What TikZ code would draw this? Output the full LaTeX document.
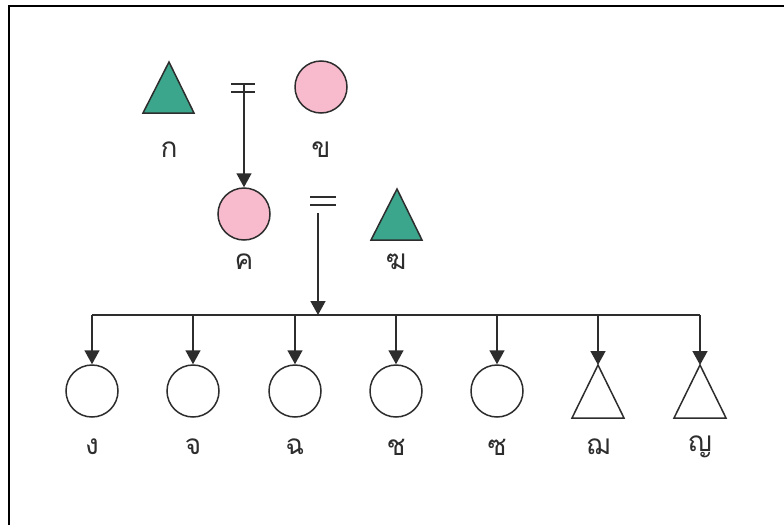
\documentclass[tikz,border=0pt]{standalone}
\usepackage{fontspec}
\newfontfamily\thaifont[Script=Thai]{Loma}
\usetikzlibrary{arrows.meta}
\definecolor{teal1}{RGB}{60,166,140}
\definecolor{pink1}{RGB}{248,186,205}
\definecolor{ink}{RGB}{45,45,45}
\begin{document}
\begin{tikzpicture}[x=1pt,y=-1pt,
  ln/.style={draw=ink, line width=1.5pt},
  arr/.style={ln, -{Triangle[width=15pt,length=14pt]}},
  circ/.style={circle, draw=ink, line width=1.5pt, minimum size=52pt, inner sep=0pt},
  tri/.style={draw=ink, line width=1.5pt, line join=miter},
  lbl/.style={font=\thaifont\fontsize{28}{28}\selectfont, text=ink, inner sep=0pt}]
\useasboundingbox (0,0) rectangle (784,525);
\fill[white] (0,0) rectangle (784,525);
% frame (top and left edges)
\draw[line width=2.2pt, black] (9,525) -- (9,6) -- (784,6);

% generation 1
\draw[tri, fill=teal1] (169,62) -- (194,113) -- (143,113) -- cycle;
\coordinate (ka) at (169,62);
\node[lbl] (lka) at (169,150) {ก};
\node[circ, fill=pink1] (kh) at (321,87) {};
\node[lbl] (lkh) at (321,150) {ข};
\coordinate (m1a) at (231,84); \coordinate (m1b) at (255,84);
\coordinate (m1c) at (231,92); \coordinate (m1d) at (255,92);
\draw[ln] (m1a) -- (m1b);
\draw[ln] (m1c) -- (m1d);
\coordinate (m1) at (244,84);

% generation 2
\node[circ, fill=pink1] (kho) at (244,214) {};
\node[lbl] (lkho) at (244,262) {ค};
\draw[tri, fill=teal1] (397,189) -- (422,240) -- (371,240) -- cycle;
\node[lbl] (lkhg) at (396,262) {ฆ};
\coordinate (m2a) at (310,197); \coordinate (m2b) at (336,197);
\coordinate (m2c) at (310,205); \coordinate (m2d) at (336,205);
\draw[ln] (m2a) -- (m2b);
\draw[ln] (m2c) -- (m2d);
\coordinate (m2) at (318,213);

\draw[arr] (m1) -- (kho.north);

% sibling bus
\coordinate (b1) at (92,315);
\coordinate (b2) at (193,315);
\coordinate (b3) at (295,315);
\coordinate (b4) at (396,315);
\coordinate (b5) at (497,315);
\coordinate (b6) at (598,315);
\coordinate (b7) at (700,315);
\coordinate (bm) at (318,315);
\draw[ln] (b1) -- (b7);
\draw[arr] (m2) -- (bm);

% children
\node[circ] (c1) at (92,391) {};
\node[circ] (c2) at (193,391) {};
\node[circ] (c3) at (295,391) {};
\node[circ] (c4) at (396,391) {};
\node[circ] (c5) at (497,391) {};
\draw[tri] (598,365) -- (624,418) -- (572,418) -- cycle;
\coordinate (c6) at (598,365);
\draw[tri] (700,365) -- (726,418) -- (674,418) -- cycle;
\coordinate (c7) at (700,365);

\draw[arr] (b1) -- (c1.north);
\draw[arr] (b2) -- (c2.north);
\draw[arr] (b3) -- (c3.north);
\draw[arr] (b4) -- (c4.north);
\draw[arr] (b5) -- (c5.north);
\draw[arr] (b6) -- (c6);
\draw[arr] (b7) -- (c7);

\node[lbl] (l1) at (92,447) {ง};
\node[lbl] (l2) at (193,447) {จ};
\node[lbl] (l3) at (295,447) {ฉ};
\node[lbl] (l4) at (396,447) {ช};
\node[lbl] (l5) at (497,447) {ซ};
\node[lbl] (l6) at (598,447) {ฌ};
\node[lbl] (l7) at (700,447) {ญ};
\end{tikzpicture}
\end{document}
